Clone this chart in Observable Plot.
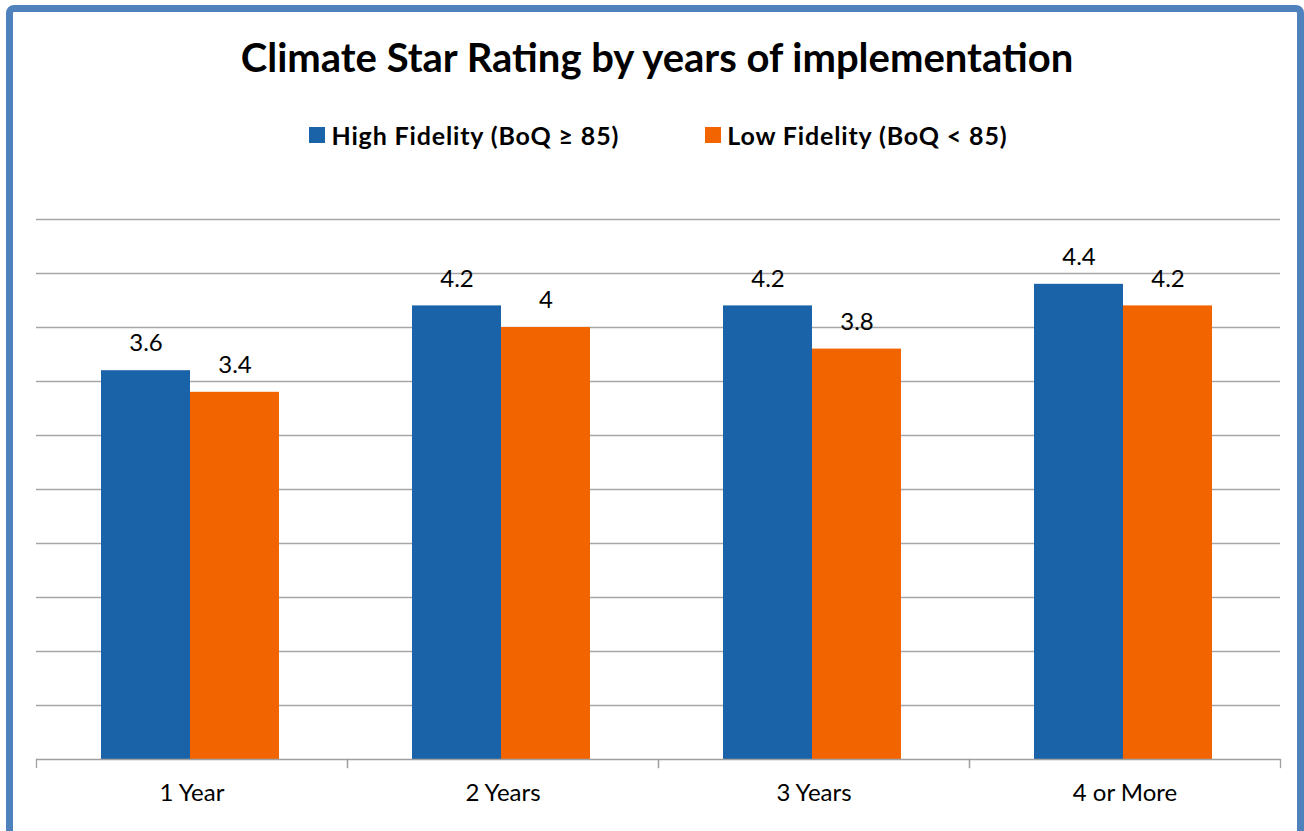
<!DOCTYPE html>
<html><head><meta charset="utf-8">
<script src="https://cdn.jsdelivr.net/npm/d3@7"></script>
<script src="https://cdn.jsdelivr.net/npm/@observablehq/plot@0.6"></script>
<style>
html,body{margin:0;padding:0}
body{width:1304px;height:831px;overflow:hidden;background:#fff;font-family:Lato,"Open Sans",sans-serif;position:relative}
#frame{position:absolute;left:6px;top:5px;width:1298px;height:834px;box-sizing:border-box;border:7.5px solid #4f81bd;border-radius:8px}
#title{position:absolute;left:0;width:1314px;top:33px;text-align:center;font-weight:bold;font-size:40px;line-height:48px;color:#000}
#legend{position:absolute;left:0;width:1317px;top:120px;display:flex;justify-content:center;gap:86px;font-weight:bold;font-size:25px;letter-spacing:0.85px;line-height:30px;color:#000}
.item{display:flex;align-items:center;gap:6px}
.sw{width:16px;height:16px;display:inline-block}
#chart{position:absolute;left:0;top:180px}
</style></head>
<body>
<div id="frame"></div>
<div id="title"></div>
<div id="legend"></div>
<div id="chart"></div>
<script>
const titleText = "Climate Star Rating by years of implementation";
const categories = ["1 Year", "2 Years", "3 Years", "4 or More"];
const series = ["High Fidelity (BoQ ≥ 85)", "Low Fidelity (BoQ < 85)"];
const highValues = [3.6, 4.2, 4.2, 4.4];
const lowValues = [3.4, 4.0, 3.8, 4.2];
const colors = ["#1a63a8", "#f26400"];
const gridTicks = [0.5, 1, 1.5, 2, 2.5, 3, 3.5, 4, 4.5, 5];

document.getElementById("title").textContent = titleText;
const legend = document.getElementById("legend");
series.forEach((s, i) => {
  const it = document.createElement("div");
  it.className = "item";
  const sw = document.createElement("span");
  sw.className = "sw";
  sw.style.background = colors[i];
  const t = document.createElement("span");
  t.textContent = s;
  it.appendChild(sw); it.appendChild(t);
  legend.appendChild(it);
});

const data = categories.flatMap((c, i) => [
  {category: c, series: series[0], value: highValues[i]},
  {category: c, series: series[1], value: lowValues[i]}
]);

const chart = Plot.plot({
  width: 1304,
  height: 651,
  marginLeft: 35,
  marginRight: 24,
  marginTop: 39,
  marginBottom: 72,
  style: {fontFamily: "Lato, 'Open Sans', sans-serif", background: "transparent", color: "#000"},
  fx: {domain: categories, padding: 0, label: null},
  x: {domain: series, paddingInner: 0, paddingOuter: 0.747, align: 0.485, axis: null},
  y: {domain: [0, 5], axis: null},
  color: {domain: series, range: colors},
  marks: [
    Plot.ruleY(gridTicks, {stroke: "#a6a6a6", strokeWidth: 1.3}),
    Plot.barY(data, {fx: "category", x: "series", y: "value", fill: "series"}),
    Plot.ruleY([0], {stroke: "#a0a0a0", strokeWidth: 1.3}),
    Plot.frame({anchor: "left", stroke: "#a0a0a0", strokeWidth: 1.3, insetTop: 540, insetBottom: -8}),
    Plot.frame({anchor: "right", stroke: "#a0a0a0", strokeWidth: 1.3, insetTop: 540, insetBottom: -8}),
    Plot.text(data, {fx: "category", x: "series", y: "value", text: d => String(d.value), dy: -27, fontSize: 24, fill: "#000"}),
    Plot.axisFx({anchor: "bottom", tickSize: 0, tickPadding: 24, fontSize: 24, label: null, color: "#000"})
  ]
});
document.getElementById("chart").appendChild(chart);
</script>
</body></html>
